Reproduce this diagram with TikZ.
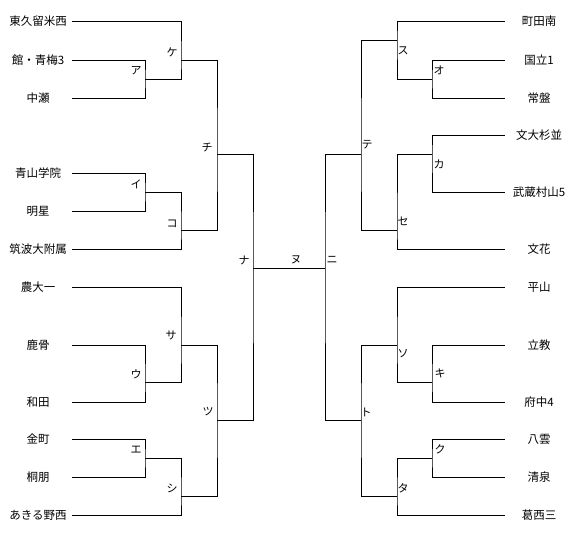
\documentclass[tikz,border=0pt]{standalone}
\usepackage{fontspec}
\newfontfamily\jpfont{Noto Sans CJK JP}
\usetikzlibrary{calc}

\begin{document}
\begin{tikzpicture}[
  x=1pt, y=-1pt,
  font=\jpfont\fontsize{11.5}{12}\selectfont,
  team/.style={minimum width=68pt, inner sep=0pt, align=center},
  bline/.style={line width=0.8pt, draw=black},
  mlabel/.style={inner sep=0pt, font=\jpfont\fontsize{11}{12}\selectfont}
]
\useasboundingbox (0,0) rectangle (577,533);

% Left teams
\node[team] (tHigashi)   at (38,21)  {東久留米西};
\node[team] (tTate)      at (38,60)  {館・青梅3};
\node[team] (tNakase)    at (38,98)  {中瀬};
\node[team] (tAoyama)    at (38,173) {青山学院};
\node[team] (tMeisei)    at (38,211) {明星};
\node[team] (tTsukuba)   at (38,249) {筑波大附属};
\node[team] (tNodai)     at (38,287) {農大一};
\node[team] (tShishi)    at (38,345) {鹿骨};
\node[team] (tWada)      at (38,402) {和田};
\node[team] (tKanamachi) at (38,439) {金町};
\node[team] (tToho)      at (38,477) {桐朋};
\node[team] (tAkiruno)   at (38,515) {あきる野西};

% Right teams
\node[team] (tMachida)   at (539,21)  {町田南};
\node[team] (tKunitachi) at (539,60)  {国立1};
\node[team] (tTokiwa)    at (539,98)  {常盤};
\node[team] (tBundai)    at (539,135) {文大杉並};
\node[team] (tMusashi)   at (539,192) {武蔵村山5};
\node[team] (tBunka)     at (539,249) {文花};
\node[team] (tHirayama)  at (539,287) {平山};
\node[team] (tRikkyo)    at (539,345) {立教};
\node[team] (tFuchu)     at (539,402) {府中4};
\node[team] (tYakumo)    at (539,439) {八雲};
\node[team] (tSeisen)    at (539,477) {清泉};
\node[team] (tKasai)     at (539,515) {葛西三};

% Match points, left half
\coordinate (mA)   at (145,79);
\coordinate (mKe)  at (181,60);
\coordinate (mI)   at (145,192);
\coordinate (mKo)  at (181,230);
\coordinate (mChi) at (217,154);
\coordinate (mU)   at (145,382);
\coordinate (mSa)  at (181,345);
\coordinate (mE)   at (145,458);
\coordinate (mShi) at (181,496);
\coordinate (mTsu) at (217,420);
\coordinate (mNa)  at (253,268);

% Match points, right half
\coordinate (mO)   at (432,79);
\coordinate (mSu)  at (397,40);
\coordinate (mKa)  at (432,154);
\coordinate (mSe)  at (397,230);
\coordinate (mTe)  at (361,154);
\coordinate (mKi)  at (432,382);
\coordinate (mSo)  at (397,345);
\coordinate (mKu)  at (432,458);
\coordinate (mTa)  at (397,496);
\coordinate (mTo)  at (361,420);
\coordinate (mNi)  at (325,268);

% Left bracket
\draw[bline] (tTate.east) -| (mA) |- (tNakase.east);
\draw[bline] (tHigashi.east) -| (mKe) |- (mA);
\draw[bline] (tAoyama.east) -| (mI) |- (tMeisei.east);
\draw[bline] (mI) -| (mKo) |- (tTsukuba.east);
\draw[bline] (mKe) -| (mChi) |- (mKo);
\draw[bline] (tShishi.east) -| (mU) |- (tWada.east);
\draw[bline] (tNodai.east) -| (mSa) |- (mU);
\draw[bline] (tKanamachi.east) -| (mE) |- (tToho.east);
\draw[bline] (mE) -| (mShi) |- (tAkiruno.east);
\draw[bline] (mSa) -| (mTsu) |- (mShi);
\draw[bline] (mChi) -| (mNa) |- (mTsu);

% Right bracket
\draw[bline] (tKunitachi.west) -| (mO) |- (tTokiwa.west);
\draw[bline] (tMachida.west) -| (mSu) |- (mO);
\draw[bline] (tBundai.west) -| (mKa) |- (tMusashi.west);
\draw[bline] (mKa) -| (mSe) |- (tBunka.west);
\draw[bline] (mSu) -| (mTe) |- (mSe);
\draw[bline] (tRikkyo.west) -| (mKi) |- (tFuchu.west);
\draw[bline] (tHirayama.west) -| (mSo) |- (mKi);
\draw[bline] (tYakumo.west) -| (mKu) |- (tSeisen.west);
\draw[bline] (mKu) -| (mTa) |- (tKasai.west);
\draw[bline] (mSo) -| (mTo) |- (mTa);
\draw[bline] (mTe) -| (mNi) |- (mTo);

% Final
\draw[bline] (mNa) -- (mNi);

% Match labels
\node[mlabel] (lA)   at ($(mA)+(-9,-8)$)   {ア};
\node[mlabel] (lKe)  at ($(mKe)+(-9,-8)$)  {ケ};
\node[mlabel] (lI)   at ($(mI)+(-9,-8)$)   {イ};
\node[mlabel] (lKo)  at ($(mKo)+(-9,-6)$)  {コ};
\node[mlabel] (lChi) at ($(mChi)+(-10,-7)$) {チ};
\node[mlabel] (lU)   at ($(mU)+(-9,-8)$)   {ウ};
\node[mlabel] (lSa)  at ($(mSa)+(-10,-10)$) {サ};
\node[mlabel] (lE)   at ($(mE)+(-9,-8)$)   {エ};
\node[mlabel] (lShi) at ($(mShi)+(-9,-8)$) {シ};
\node[mlabel] (lTsu) at ($(mTsu)+(-9,-8)$) {ツ};
\node[mlabel] (lNa)  at ($(mNa)+(-9,-8)$)  {ナ};
\node[mlabel] (lNu)  at (296,260)          {ヌ};
\node[mlabel] (lNi)  at ($(mNi)+(7,-8)$)   {ニ};
\node[mlabel] (lO)   at ($(mO)+(7,-9)$)    {オ};
\node[mlabel] (lSu)  at ($(mSu)+(6,11)$)   {ス};
\node[mlabel] (lKa)  at ($(mKa)+(7,10)$)   {カ};
\node[mlabel] (lSe)  at ($(mSe)+(6,-9)$)   {セ};
\node[mlabel] (lTe)  at ($(mTe)+(6,-9)$)   {テ};
\node[mlabel] (lKi)  at ($(mKi)+(8,-9)$)   {キ};
\node[mlabel] (lSo)  at ($(mSo)+(6,9)$)    {ソ};
\node[mlabel] (lKu)  at ($(mKu)+(8,-9)$)   {ク};
\node[mlabel] (lTa)  at ($(mTa)+(6,-8)$)   {タ};
\node[mlabel] (lTo)  at ($(mTo)+(5,-8)$)   {ト};

\end{tikzpicture}
\end{document}
